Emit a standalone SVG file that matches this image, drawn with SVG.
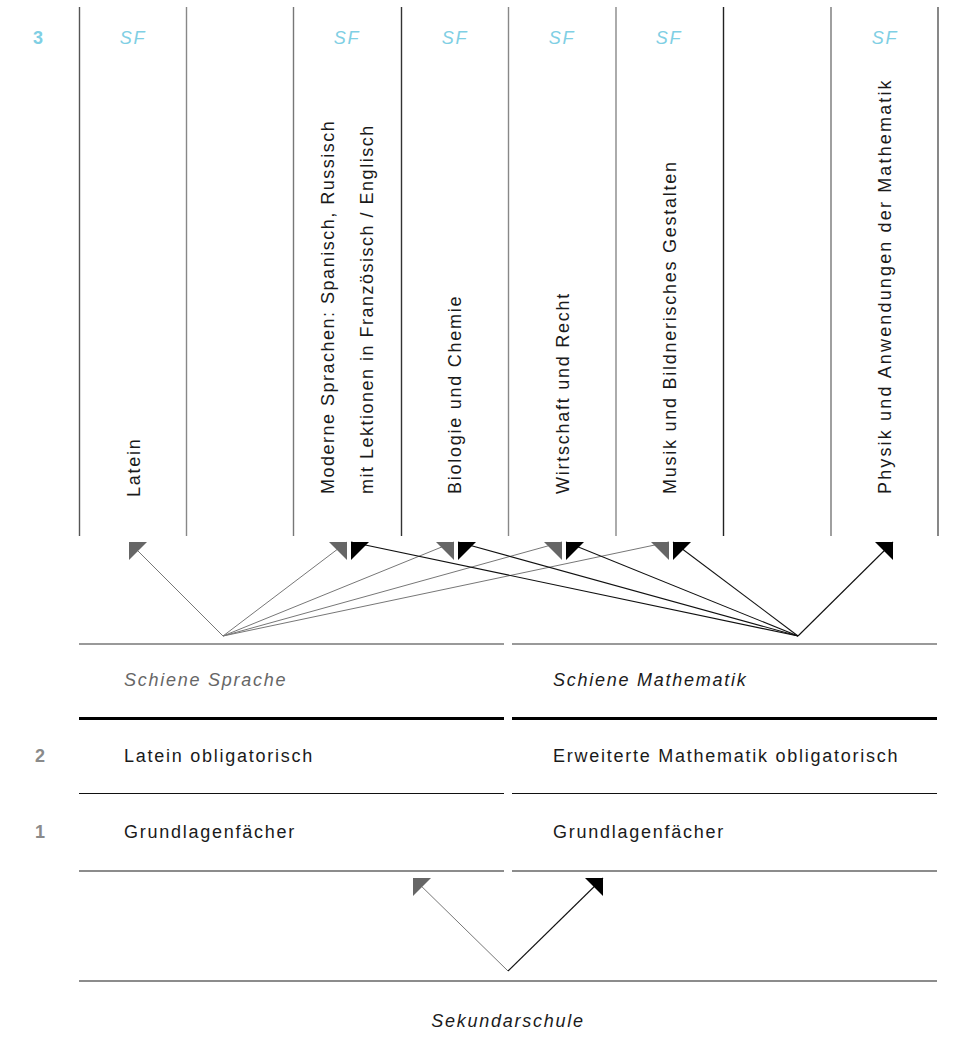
<svg xmlns="http://www.w3.org/2000/svg" width="979" height="1056" viewBox="0 0 979 1056">
<style>
text{font-family:"Liberation Sans",Arial,sans-serif;font-size:18px;letter-spacing:1.75px;fill:#1a1a1a}
.it{font-style:italic}
.sf{font-style:italic;fill:#7fcfe4;text-anchor:middle}
.num{font-weight:bold;fill:#8a8a8a;text-anchor:middle;letter-spacing:0}
.g{stroke:#777;stroke-width:1;fill:none}
.k{stroke:#111;stroke-width:1.1;fill:none}
.col{stroke-width:1.4}
</style>
<defs>
<marker id="gUL" viewBox="0 0 18 18" refX="0" refY="0" markerWidth="18" markerHeight="18" markerUnits="userSpaceOnUse" orient="0"><path d="M0,0 L18,0 L0,18 Z" fill="#666"/></marker>
<marker id="gUR" viewBox="0 0 18 18" refX="18" refY="0" markerWidth="18" markerHeight="18" markerUnits="userSpaceOnUse" orient="0"><path d="M18,0 L0,0 L18,18 Z" fill="#666"/></marker>
<marker id="kUL" viewBox="0 0 18 18" refX="0" refY="0" markerWidth="18" markerHeight="18" markerUnits="userSpaceOnUse" orient="0"><path d="M0,0 L18,0 L0,18 Z" fill="#000"/></marker>
<marker id="kUR" viewBox="0 0 18 18" refX="18" refY="0" markerWidth="18" markerHeight="18" markerUnits="userSpaceOnUse" orient="0"><path d="M18,0 L0,0 L18,18 Z" fill="#000"/></marker>
</defs>

<g id="grid">
<line class="col" x1="79.5" y1="7" x2="79.5" y2="536" stroke="#555"/>
<line class="col" x1="186.5" y1="7" x2="186.5" y2="536" stroke="#888"/>
<line class="col" x1="293.5" y1="7" x2="293.5" y2="536" stroke="#777"/>
<line class="col" x1="401.5" y1="7" x2="401.5" y2="536" stroke="#333"/>
<line class="col" x1="508.5" y1="7" x2="508.5" y2="536" stroke="#888"/>
<line class="col" x1="616" y1="7" x2="616" y2="536" stroke="#888"/>
<line class="col" x1="723.5" y1="7" x2="723.5" y2="536" stroke="#222"/>
<line class="col" x1="831" y1="7" x2="831" y2="536" stroke="#777"/>
<line class="col" x1="938" y1="7" x2="938" y2="536" stroke="#555"/>
<line x1="79" y1="644" x2="504" y2="644" stroke="#777" stroke-width="1.4"/>
<line x1="512" y1="644" x2="937" y2="644" stroke="#777" stroke-width="1.4"/>
<line x1="79" y1="718.5" x2="504" y2="718.5" stroke="#000" stroke-width="3"/>
<line x1="512" y1="718.5" x2="937" y2="718.5" stroke="#000" stroke-width="3"/>
<line x1="79" y1="793.5" x2="504" y2="793.5" stroke="#111" stroke-width="1.2"/>
<line x1="512" y1="793.5" x2="937" y2="793.5" stroke="#111" stroke-width="1.2"/>
<line x1="79" y1="871" x2="504" y2="871" stroke="#666" stroke-width="1.4"/>
<line x1="512" y1="871" x2="937" y2="871" stroke="#666" stroke-width="1.4"/>
<line x1="79" y1="981" x2="937" y2="981" stroke="#666" stroke-width="1.4"/>
</g>

<g id="header">
<text x="38" y="44" class="num" style="fill:#7fcfe4">3</text>
<text x="133" y="44" class="sf">SF</text>
<text x="347" y="44" class="sf">SF</text>
<text x="455" y="44" class="sf">SF</text>
<text x="562" y="44" class="sf">SF</text>
<text x="669" y="44" class="sf">SF</text>
<text x="885" y="44" class="sf">SF</text>
</g>

<g id="node-latein"><text transform="translate(139.5,497) rotate(-90)">Latein</text></g>
<g id="node-moderne">
<text transform="translate(334,494) rotate(-90)" style="letter-spacing:1.5px">Moderne Sprachen: Spanisch, Russisch</text>
<text transform="translate(373,494) rotate(-90)" style="letter-spacing:1.5px">mit Lektionen in Französisch / Englisch</text>
</g>
<g id="node-biologie"><text transform="translate(461,494) rotate(-90)">Biologie und Chemie</text></g>
<g id="node-wirtschaft"><text transform="translate(568.5,494) rotate(-90)">Wirtschaft und Recht</text></g>
<g id="node-musik"><text transform="translate(675.5,494) rotate(-90)">Musik und Bildnerisches Gestalten</text></g>
<g id="node-physik"><text transform="translate(891,494) rotate(-90)" style="letter-spacing:2.15px">Physik und Anwendungen der Mathematik</text></g>

<g id="node-schiene-sprache"><text x="124" y="686" class="it" style="fill:#666">Schiene Sprache</text></g>
<g id="node-schiene-mathematik"><text x="553" y="686" class="it">Schiene Mathematik</text></g>
<g id="node-level2">
<text x="40" y="762" class="num">2</text>
<text x="124" y="762">Latein obligatorisch</text>
<text x="553" y="762">Erweiterte Mathematik obligatorisch</text>
</g>
<g id="node-level1">
<text x="40" y="838" class="num">1</text>
<text x="124" y="838">Grundlagenfächer</text>
<text x="553" y="838">Grundlagenfächer</text>
</g>
<g id="node-sekundarschule"><text x="508" y="1027" class="it" style="text-anchor:middle">Sekundarschule</text></g>

<g id="connectors">
<line class="g" x1="223" y1="636" x2="129" y2="542" marker-end="url(#gUL)"/>
<line class="g" x1="223" y1="636" x2="347" y2="542" marker-end="url(#gUR)"/>
<line class="g" x1="223" y1="636" x2="454" y2="542" marker-end="url(#gUR)"/>
<line class="g" x1="223" y1="636" x2="562" y2="542" marker-end="url(#gUR)"/>
<line class="g" x1="223" y1="636" x2="669" y2="542" marker-end="url(#gUR)"/>
<line class="k" x1="798" y1="636" x2="351" y2="542" marker-end="url(#kUL)"/>
<line class="k" x1="798" y1="636" x2="458" y2="542" marker-end="url(#kUL)"/>
<line class="k" x1="798" y1="636" x2="566" y2="542" marker-end="url(#kUL)"/>
<line class="k" x1="798" y1="636" x2="673" y2="542" marker-end="url(#kUL)"/>
<line class="k" x1="798" y1="636" x2="893" y2="542" marker-end="url(#kUR)"/>
<line class="g" x1="508" y1="971" x2="413" y2="878" marker-end="url(#gUL)"/>
<line class="k" x1="508" y1="971" x2="603" y2="878" marker-end="url(#kUR)"/>
</g>
</svg>
